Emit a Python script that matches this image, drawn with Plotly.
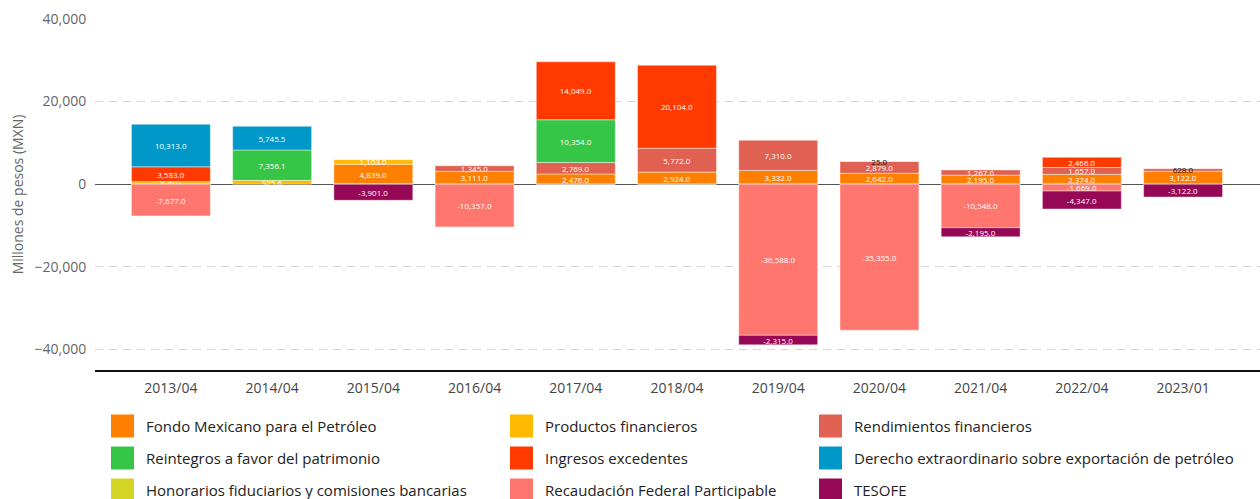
import plotly.graph_objects as go

categories = ["2013/04", "2014/04", "2015/04", "2016/04", "2017/04", "2018/04",
              "2019/04", "2020/04", "2021/04", "2022/04", "2023/01"]

fondo_mexicano = [None, None, 4839.0, 3111.0, 2476.0, 2924.0, 3332.0, 2642.0, 2195.0, 2374.0, 3122.0]
productos_financieros = [620.0, 925.6, 1103.0, None, None, None, None, None, None, None, None]
rendimientos_financieros = [None, None, None, 1345.0, 2769.0, 5772.0, 7310.0, 2879.0, 1267.0, 1657.0, 628.0]
reintegros = [None, 7356.1, None, None, 10354.0, None, None, 25.0, None, None, None]
ingresos_excedentes = [3583.0, None, None, None, 14049.0, 20104.0, None, None, None, 2466.0, None]
derecho_extraordinario = [10313.0, 5745.5, None, None, None, None, None, None, None, None, None]
honorarios = [-1.0, None, -1.1, -1.1, -1.0, -1.2, -1.2, -1.0, -1.0, -1.4, -0.4]
recaudacion = [-7677.0, None, -0.5, -10357.0, None, None, -36588.0, -35355.0, -10548.0, -1669.0, None]
tesofe = [None, None, -3901.0, None, None, None, -2315.0, None, -2195.0, -4347.0, -3122.0]

series = [
    ("Fondo Mexicano para el Petróleo", fondo_mexicano, "#FF8000"),
    ("Productos financieros", productos_financieros, "#FFBA00"),
    ("Rendimientos financieros", rendimientos_financieros, "#E06052"),
    ("Reintegros a favor del patrimonio", reintegros, "#36C647"),
    ("Ingresos excedentes", ingresos_excedentes, "#FF3A00"),
    ("Derecho extraordinario sobre exportación de petróleo", derecho_extraordinario, "#0098C8"),
    ("Honorarios fiduciarios y comisiones bancarias", honorarios, "#D4D424"),
    ("Recaudación Federal Participable", recaudacion, "#FF766E"),
    ("TESOFE", tesofe, "#960755"),
]

# labels drawn in dark text (small segments)
dark_labels = {("Honorarios fiduciarios y comisiones bancarias", "2017/04"),
               ("Reintegros a favor del patrimonio", "2020/04"),
               ("Rendimientos financieros", "2023/01")}

FONT = "Open Sans"
W, H = 1260, 499
L, R, T, B = 95, 0, 19, 129
PW, PH = W - L - R, H - T - B

fig = go.Figure()
for name, vals, color in series:
    texts = ["" if v is None else f"{v:,.1f}" for v in vals]
    tcol = ["#111111" if (name, c) in dark_labels else "#FFFFFF" for c in categories]
    fig.add_trace(go.Bar(
        x=categories, y=vals, name=name, text=texts,
        textposition="inside", insidetextanchor="middle", textangle=0,
        textfont=dict(size=8, color=tcol, family=FONT),
        marker=dict(color=color, line=dict(color="rgba(255,255,255,0.55)", width=0.8)),
        showlegend=False,
    ))

fig.update_layout(
    barmode="relative",
    bargap=0.22,
    width=W, height=H,
    margin=dict(l=L, r=R, t=T, b=B, autoexpand=False),
    plot_bgcolor="white", paper_bgcolor="white",
    font=dict(family=FONT, color="#333333"),
    uniformtext=dict(minsize=8, mode="show"),
)
fig.update_xaxes(
    type="category", range=[-0.75, 10.76],
    showline=True, linecolor="#111111", linewidth=1.5,
    showgrid=False, ticks="outside", ticklen=4, tickcolor="rgba(0,0,0,0)",
    tickfont=dict(size=14, color="#444444"),
)
fig.update_yaxes(
    range=[-45000, 40000], tickvals=[-40000, -20000, 0, 20000, 40000],
    tickformat=",", showgrid=True, gridcolor="#D6D6D6", griddash="8px,6px", gridwidth=1,
    zeroline=True, zerolinecolor="#555555", zerolinewidth=1,
    ticks="outside", ticklen=5, tickcolor="rgba(0,0,0,0)",
    tickfont=dict(size=14, color="#666666"),
    title=dict(text="Millones de pesos (MXN)", font=dict(size=14, color="#666666"), standoff=7),
)

# manual legend (3 columns x 3 rows)
def px2x(px):
    return (px - L) / PW

def py2y(py):
    return (H - B - py) / PH

col_x = [111, 510, 819]
row_y = [426, 458, 490]
for i, (name, vals, color) in enumerate(series):
    r, c = divmod(i, 3)
    x0, yc = col_x[c], row_y[r]
    fig.add_shape(type="rect", xref="paper", yref="paper",
                  x0=px2x(x0), x1=px2x(x0 + 23), y0=py2y(yc - 11.5), y1=py2y(yc + 11.5),
                  fillcolor=color, line=dict(width=0))
    fig.add_annotation(xref="paper", yref="paper", x=px2x(x0 + 33), y=py2y(yc),
                       text=name, showarrow=False, xanchor="left", yanchor="middle",
                       font=dict(size=15, color="#222222", family=FONT))

fig.write_html("out.html", config={"displayModeBar": False},
               post_script="document.body.style.margin='0';document.body.style.overflow='hidden';")
